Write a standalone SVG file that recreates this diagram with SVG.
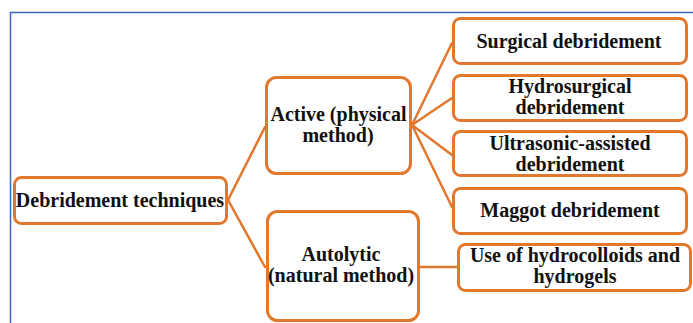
<svg xmlns="http://www.w3.org/2000/svg" width="693" height="323" viewBox="0 0 693 323">
  <style>
    .box { fill: #ffffff; stroke: #E2772E; stroke-width: 3; }
    .link { fill: none; stroke: #E2772E; stroke-width: 2.5; stroke-linecap: round; }
    .frame { fill: none; stroke: #3D66C2; stroke-width: 1.5; }
    .lbl { font-family: 'Liberation Serif', 'Times New Roman', serif; font-weight: 700; font-size: 20px; fill: #111111; text-anchor: middle; }
  </style>
  <rect width="693" height="323" fill="#ffffff"/>
  <!-- outer frame -->
  <path class="frame" d="M10.5,323 V12.5 H693"/>

  <g id="connectors">
    <path class="link" d="M228,200 L265,127"/>
    <path class="link" d="M228,200 L265,267"/>
    <path class="link" d="M412,125 L452,43"/>
    <path class="link" d="M412,125 L452,98"/>
    <path class="link" d="M412,125 L452,155"/>
    <path class="link" d="M412,125 L452,207"/>
    <path class="link" d="M420,267 L457,267"/>
  </g>

  <g id="root">
    <rect class="box" x="14.5" y="177.5" width="212" height="46" rx="7"/>
    <text class="lbl" x="120" y="207">Debridement techniques</text>
  </g>

  <g id="active">
    <rect class="box" x="266.5" y="77.5" width="144" height="96" rx="10"/>
    <text class="lbl" x="338.5" y="121">Active (physical</text>
    <text class="lbl" x="338" y="142">method)</text>
  </g>

  <g id="autolytic">
    <rect class="box" x="267.5" y="211.5" width="151" height="109" rx="10"/>
    <text class="lbl" x="341" y="261">Autolytic</text>
    <text class="lbl" x="341" y="282">(natural method)</text>
  </g>

  <g id="surgical">
    <rect class="box" x="453.5" y="18.5" width="233" height="45" rx="7"/>
    <text class="lbl" x="569" y="48">Surgical debridement</text>
  </g>

  <g id="hydrosurgical">
    <rect class="box" x="453.5" y="75.5" width="233" height="45" rx="7"/>
    <text class="lbl" x="570" y="93">Hydrosurgical</text>
    <text class="lbl" x="570" y="114">debridement</text>
  </g>

  <g id="ultrasonic">
    <rect class="box" x="453.5" y="131.5" width="233" height="44" rx="7"/>
    <text class="lbl" x="570" y="150">Ultrasonic-assisted</text>
    <text class="lbl" x="570" y="171">debridement</text>
  </g>

  <g id="maggot">
    <rect class="box" x="453.5" y="188.5" width="233" height="45" rx="7"/>
    <text class="lbl" x="570" y="217">Maggot debridement</text>
  </g>

  <g id="hydrocolloids">
    <rect class="box" x="458.5" y="244.5" width="232" height="46" rx="7"/>
    <text class="lbl" x="575" y="262">Use of hydrocolloids and</text>
    <text class="lbl" x="575" y="283">hydrogels</text>
  </g>
</svg>
